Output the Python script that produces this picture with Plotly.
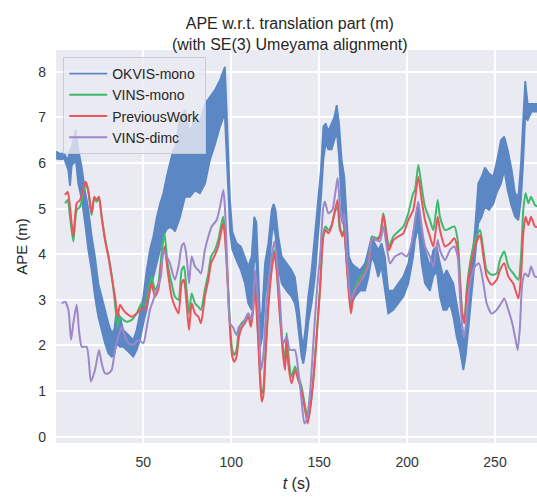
import plotly.graph_objects as go

# ---------------- data ----------------
# OKVIS-mono: noisy trajectory error, stored as lower / upper envelope of the trace
okvis_t = [0.4, 3, 5, 6.4, 7.3, 8.3, 9.3, 10.5, 11.5, 13, 15, 16.8, 18.7, 20.6, 22.5, 24.4,
           26.3, 28.2, 30.1, 32, 33.5, 34.8, 36.7, 38.6, 40.5, 42.4, 44.3, 46.2, 48.1, 50,
           51.9, 53.8, 55.7, 57.6, 59.5, 61.4, 63.3, 65.2, 67.1, 68, 70.8, 73.7, 76.5, 79.4,
           82.2, 85.1, 87.9, 90.7, 93.6, 95.5, 96.4, 97.4, 98.3, 99.3, 100.6, 103, 105.5,
           107.8, 109.7, 111.6, 113.1, 114.3, 115.4, 116.5, 117.7, 119.2, 121.1, 123, 124.1,
           125.2, 126.8, 128.7, 131.5, 134.3, 136.2, 137.2, 138.5, 140, 141, 142.3, 143.8,
           145.7, 147.6, 149.5, 151, 152.4, 153.7, 155.2, 157.1, 158.6, 160, 161.3, 162.8,
           164.3, 165.6, 166.9, 168.5, 170.4, 173.2, 176.1, 178, 179.9, 181.7, 183.6, 185.5,
           187.4, 189.3, 192.2, 195, 197.9, 200.7, 203.5, 204.5, 206.4, 208.3, 210.2, 213,
           214.9, 216.8, 218.7, 220.6, 222.5, 224.4, 226.3, 228.2, 230.1, 232, 233.3, 234.8,
           236.7, 238.6, 240.5, 242.4, 244.3, 246.6, 249, 250.9, 253.4, 255.3, 257.2, 259.5,
           261.4, 263.3, 264.8, 266.1, 267.2, 268.6, 270.8, 273.9]
okvis_lo = [6.1, 6.08, 6.1, 5.95, 5.85, 5.5, 5.95, 6.0, 6.1, 5.55, 5.2, 4.7, 4.1, 3.65, 3.07, 2.63,
            2.34, 2.05, 1.83, 1.75, 1.8, 2.05, 1.97, 1.97, 1.9, 1.83, 1.75, 1.9, 2.12, 2.49,
            2.78, 3.2, 3.5, 3.8, 4.1, 4.39, 4.55, 4.6, 4.55, 4.5, 4.8, 5.26, 5.26, 5.4,
            5.34, 5.55, 6.07, 6.4, 6.8, 7.0, 7.0, 6.3, 5.4, 4.5, 4.1, 3.87, 3.65,
            3.36, 2.92, 2.78, 3.95, 3.8, 2.49, 1.97, 2.2, 3.07, 3.5, 4.39, 4.68,
            4.39, 3.73, 3.36, 3.2, 3.07, 2.92, 2.7, 2.19, 1.75, 1.6, 1.9, 2.49,
            2.92, 3.5, 4.39, 5.2, 6.07, 6.43, 6.3, 6.3, 6.5, 6.7, 6.14, 5.04,
            4.53, 3.95, 3.2, 2.92, 3.07, 3.2, 3.2, 3.5, 3.95, 3.8, 3.5, 3.73,
            3.2, 2.7, 2.78, 2.92, 3.07, 3.36, 3.95, 4.31, 4.6, 3.8, 3.36, 3.2,
            3.51, 3.65, 3.07, 2.78, 2.78, 2.92, 2.63, 2.19, 1.9, 1.46, 1.75, 2.34,
            3.07, 3.8, 4.68, 4.82, 5.04, 4.97, 5.1, 5.34, 5.55, 5.85, 5.4, 5.04,
            4.82, 4.75, 5.19, 6.07, 7.0, 6.94, 7.13, 7.13]
okvis_hi = [6.25, 6.2, 6.22, 6.1, 6.1, 6.3, 6.35, 6.6, 6.73, 6.3, 5.9, 5.4, 5.0, 4.4, 3.95, 3.36,
            3.07, 2.78, 2.49, 2.27, 2.35, 2.78, 2.63, 2.34, 2.27, 2.2, 2.12, 2.34, 2.7, 3.07,
            3.65, 4.1, 4.39, 4.8, 5.1, 5.34, 5.7, 6.0, 6.3, 6.3, 7.0, 7.16, 6.65, 7.0,
            6.9, 7.3, 7.45, 7.6, 7.82, 8.04, 8.11, 7.16, 6.3, 5.2, 4.5, 4.24, 4.17,
            3.95, 3.73, 3.95, 4.82, 4.7, 3.36, 2.49, 2.78, 3.8, 4.24, 4.97, 5.1,
            4.97, 4.39, 3.95, 3.8, 3.65, 3.5, 3.2, 2.78, 2.19, 1.97, 2.41, 3.07,
            3.65, 4.39, 5.26, 5.85, 6.8, 6.87, 6.7, 6.87, 7.0, 7.27, 6.87, 6.07,
            5.7, 4.82, 3.95, 3.8, 3.73, 3.65, 3.8, 4.09, 4.39, 4.24, 4.09, 4.24,
            3.95, 3.2, 3.2, 3.36, 3.51, 3.8, 4.53, 4.68, 5.1, 4.39, 4.09, 3.73,
            4.09, 4.17, 3.8, 3.5, 3.65, 3.51, 3.36, 2.92, 2.49, 2.05, 2.34, 3.07,
            3.8, 4.53, 5.55, 5.7, 5.9, 5.77, 5.7, 6.0, 6.5, 6.58, 6.3, 5.85,
            5.34, 5.26, 6.0, 7.0, 7.8, 7.3, 7.3, 7.3]

# PreviousWork and VINS-mono share the same time stamps
pw_t = [5.5, 7, 8.3, 10.2, 12.1, 14, 17.2, 18.7, 20.6, 22.1, 23.5, 24.8, 26.3, 28.2, 30.1, 32,
        33.9, 35.4, 36.7, 38.6, 40.5, 43.4, 46.2, 49, 51, 52.9, 54.7, 56.6, 58.5, 60.4, 62,
        63.8, 66.1, 68, 70, 71.8, 73.1, 74.6, 76, 77.5, 79.4, 81.3, 82.8, 85, 87, 88.5, 90.7,
        92.6, 94.5, 95.5, 96.4, 97.4, 98.3, 98.9, 99.8, 100.6, 101.7, 103, 104.4, 105.9,
        107.8, 109.7, 111.2, 112.5, 113.5, 114.4, 115.4, 116.3, 117.3, 118.2, 119.2, 121,
        123, 124.5, 125.8, 127.7, 129.6, 130.6, 131.5, 132.4, 134.3, 136.3, 138.1, 140, 142,
        143.5, 144.8, 146.7, 148.6, 150.5, 152.4, 153.7, 155.2, 157.1, 159, 160.5, 161.8,
        163.2, 164.3, 165.6, 166.9, 168.1, 169.4, 172.3, 175.1, 177.9, 180.2, 182.7, 184.6,
        186.5, 187.8, 189.7, 192.2, 195, 197.9, 200.7, 203.5, 204.5, 206.4, 208.3, 210.2,
        213, 214.9, 217.4, 218.7, 221.6, 224.4, 226.9, 228.8, 230.1, 231.4, 232.6, 233.9,
        235.8, 238.6, 241.5, 243.4, 245.3, 248.1, 251, 252.8, 255.3, 257.6, 260.4, 263.3,
        264.8, 266.1, 267.4, 269, 270.5, 272.7, 274]
pw_ape = [5.30, 5.37, 5.04, 4.39, 5.12, 5.19, 5.59, 5.41, 4.90, 5.26, 5.19, 5.26, 4.82, 4.31,
          3.95, 3.51, 3.07, 2.63, 2.89, 2.78, 2.70, 2.63, 2.70, 2.81, 2.78, 3.07, 3.36, 3.07,
          3.22, 3.80, 4.17, 3.65, 3.07, 2.85, 2.70, 3.36, 3.44, 2.92, 2.34, 2.92, 2.70, 2.63,
          2.49, 3.07, 3.44, 3.80, 3.98, 4.17, 4.53, 4.68, 4.39, 3.80, 3.14, 2.63, 2.05, 1.75,
          1.64, 1.75, 2.19, 2.38, 2.49, 2.63, 2.41, 2.78, 3.36, 2.78, 2.05, 1.32, 0.77, 0.88,
          1.54, 2.78, 3.65, 4.02, 3.65, 2.63, 1.75, 1.46, 2.12, 1.61, 1.17, 1.46, 1.24, 1.02,
          0.58, 0.29, 0.58, 1.24, 2.19, 3.22, 4.39, 4.53, 4.46, 4.61, 4.97, 5.19, 4.61, 4.39,
          4.50, 3.80, 3.14, 2.70, 3.07, 3.36, 3.51, 3.80, 4.35, 4.31, 4.39, 4.86, 4.53, 4.09,
          4.31, 4.39, 4.46, 4.75, 4.97, 5.19, 5.70, 5.19, 4.75, 4.39, 4.17, 4.82, 4.53, 4.17,
          4.24, 4.35, 4.09, 3.36, 2.70, 2.49, 3.07, 3.65, 4.17, 4.42, 3.95, 3.51, 3.33, 3.44,
          3.65, 3.80, 3.51, 3.36, 3.03, 3.51, 4.46, 4.82, 4.64, 4.82, 4.61, 4.60]
vins_mono_ape = [5.12, 5.19, 4.82, 4.28, 4.97, 5.04, 5.56, 5.37, 4.86, 5.23, 5.15, 5.23, 4.82,
                 4.35, 3.98, 3.55, 2.92, 2.41, 2.63, 2.56, 2.52, 2.56, 2.70, 2.92, 2.89, 3.22,
                 3.51, 3.22, 3.36, 4.02, 4.46, 3.80, 3.36, 3.07, 3.00, 3.65, 3.73, 3.22, 2.70,
                 3.14, 2.92, 2.85, 2.78, 3.22, 3.58, 3.95, 4.09, 4.31, 4.68, 4.82, 4.53, 3.87,
                 3.22, 2.78, 2.19, 1.90, 1.79, 1.90, 2.34, 2.49, 2.56, 2.70, 2.52, 2.89, 3.51,
                 2.92, 2.19, 1.46, 0.95, 1.02, 1.68, 2.85, 3.73, 4.09, 3.73, 2.70, 1.90, 1.68,
                 2.27, 1.83, 1.32, 1.54, 1.32, 1.10, 0.66, 0.37, 0.62, 1.28, 2.23, 3.29, 4.46,
                 4.61, 4.53, 4.64, 4.93, 5.04, 4.53, 4.46, 4.53, 3.87, 3.22, 2.78, 3.14, 3.44,
                 3.58, 3.87, 4.39, 4.35, 4.42, 4.90, 4.61, 4.17, 4.39, 4.50, 4.61, 4.90, 5.34,
                 5.41, 5.96, 5.48, 5.04, 4.75, 4.53, 5.19, 4.82, 4.53, 4.57, 4.61, 4.31, 3.51,
                 2.70, 2.56, 3.22, 3.80, 4.31, 4.53, 4.09, 3.65, 3.55, 3.58, 3.87, 4.06, 3.73,
                 3.58, 3.44, 3.95, 4.97, 5.34, 5.12, 5.26, 5.08, 5.05]

dimc_t = [3.6, 5.5, 7.4, 8.9, 10.2, 12.1, 13.4, 15, 17.8, 20.2, 22.5, 24.8, 26.3, 28.2, 30.1,
          32, 33.9, 35.8, 37.7, 39.6, 41.5, 44.3, 47.2, 50, 52, 53.8, 55.7, 57.6, 60, 61.4,
          63.3, 65.2, 66.5, 68, 70, 71.8, 73.1, 74.6, 76, 77.5, 79.4, 81.3, 82.8, 85, 87,
          88.9, 91.7, 93.6, 95.5, 96.4, 97.4, 98.3, 99.3, 101.2, 103, 104.4, 106.9, 109.7,
          111.6, 113.5, 114.4, 115.8, 116.9, 118.2, 120.1, 123, 124.5, 125.8, 127.7, 129.6,
          131.5, 133.4, 136.2, 138.1, 140, 141.6, 142.9, 144.8, 146.7, 148.6, 150.5, 152.4,
          153.3, 155.2, 157.5, 159.4, 160.5, 161.8, 163.2, 164.3, 165.6, 166.9, 168.1, 170.4,
          174.2, 177.9, 180.2, 182.7, 184.6, 186.5, 188.4, 190.3, 193.1, 196.9, 199.8, 202.6,
          204.5, 206.4, 208.3, 210.2, 213, 214.9, 217.4, 218.7, 221.6, 224.4, 226.9, 228.8,
          230.1, 231.4, 232.6, 233.9, 235.8, 238.6, 240.9, 243.4, 245.3, 248.1, 251, 253.4,
          255.3, 257.6, 259.8, 261.4, 262.9, 264.2, 265.5, 267.1, 269, 270.5, 272.7, 274]
dimc_ape = [2.92, 2.96, 2.78, 2.12, 2.49, 2.89, 2.34, 1.97, 1.97, 1.21, 1.46, 1.90, 1.61, 1.39,
            1.39, 1.46, 1.90, 2.19, 2.41, 2.19, 2.05, 2.01, 2.12, 2.05, 2.41, 2.78, 3.00, 3.22,
            3.51, 4.09, 3.95, 3.80, 3.60, 3.44, 3.73, 4.17, 4.24, 3.95, 3.36, 3.95, 3.73, 3.65,
            3.58, 4.09, 4.39, 4.61, 4.75, 5.04, 5.41, 5.04, 4.09, 3.07, 2.49, 2.38, 2.23, 2.41,
            2.49, 2.70, 2.56, 3.65, 3.36, 2.49, 1.46, 1.75, 2.92, 3.95, 4.28, 3.95, 3.00, 2.05,
            2.19, 1.90, 1.90, 1.46, 0.80, 0.29, 0.37, 0.95, 2.05, 3.14, 3.95, 5.04, 5.15, 4.90,
            4.97, 5.41, 5.67, 5.04, 4.68, 4.90, 4.09, 3.36, 3.00, 3.22, 3.44, 3.73, 4.35, 4.31,
            4.28, 4.61, 4.17, 3.80, 3.95, 4.02, 3.95, 4.24, 4.75, 5.15, 4.61, 4.17, 3.95, 3.73,
            4.31, 4.09, 3.87, 4.09, 4.17, 3.95, 3.07, 2.41, 2.19, 2.63, 3.36, 3.73, 3.80, 3.36,
            2.92, 2.70, 2.78, 2.92, 3.03, 2.78, 2.49, 2.19, 1.90, 2.41, 3.36, 3.58, 3.51, 3.73,
            3.51, 3.50]

x_ticks = [50, 100, 150, 200, 250]
y_ticks = [0, 1, 2, 3, 4, 5, 6, 7, 8]

# ---------------- style ----------------
BLUE = "#5b87c4"
GREEN = "#3fb96b"
RED = "#e8565c"
PURPLE = "#9c87c8"
BG = "#eaeaf2"
TEXT = "#262626"
FONT = "Liberation Sans, Arial, sans-serif"

fig = go.Figure()

# OKVIS-mono as a solid band between its envelopes
fig.add_trace(go.Scatter(x=okvis_t, y=okvis_lo, mode="lines", name="OKVIS-mono",
                         line=dict(color=BLUE, width=1.8), legendgroup="okvis"))
fig.add_trace(go.Scatter(x=okvis_t, y=okvis_hi, mode="lines", name="OKVIS-mono",
                         line=dict(color=BLUE, width=1.8), fill="tonexty",
                         fillcolor=BLUE, showlegend=False, legendgroup="okvis"))
fig.add_trace(go.Scatter(x=pw_t, y=vins_mono_ape, mode="lines", name="VINS-mono",
                         line=dict(color=GREEN, width=2, shape="spline", smoothing=0.6)))
fig.add_trace(go.Scatter(x=pw_t, y=pw_ape, mode="lines", name="PreviousWork",
                         line=dict(color=RED, width=2, shape="spline", smoothing=0.6)))
fig.add_trace(go.Scatter(x=dimc_t, y=dimc_ape, mode="lines", name="VINS-dimc",
                         line=dict(color=PURPLE, width=2, shape="spline", smoothing=0.6)))

fig.update_layout(
    width=537, height=497,
    margin=dict(l=56, r=0, t=50, b=54),
    paper_bgcolor="white",
    plot_bgcolor=BG,
    font=dict(family=FONT, size=14, color=TEXT),
    title=dict(text="APE w.r.t. translation part (m)<br>(with SE(3) Umeyama alignment)",
               x=0.486, xref="paper", xanchor="center",
               y=0.942, yref="container", yanchor="middle",
               font=dict(family=FONT, size=16, color=TEXT)),
    legend=dict(x=0.015, y=0.982, xanchor="left", yanchor="top",
                bgcolor="rgba(234,234,242,0.8)", bordercolor="rgba(200,200,205,0.9)",
                borderwidth=1, font=dict(family=FONT, size=14, color=TEXT),
                tracegroupgap=0, itemwidth=38),
    showlegend=True,
)
fig.update_xaxes(range=[0.34, 273.9], tickvals=x_ticks, showgrid=True, gridcolor="white",
                 gridwidth=1.5, zeroline=False, showline=False, ticks="",
                 ticklabelstandoff=9, tickfont=dict(size=14, color="#333333"),
                 title=dict(text="<i>t</i> (s)", font=dict(size=16, color=TEXT), standoff=8))
fig.update_yaxes(range=[-0.14, 8.48], tickvals=y_ticks, showgrid=True, gridcolor="white",
                 gridwidth=1.5, zeroline=False, showline=False, ticks="",
                 ticklabelstandoff=9, tickfont=dict(size=14, color="#333333"),
                 title=dict(text="APE (m)", font=dict(size=15, color=TEXT), standoff=6))

fig.write_html("out.html")
